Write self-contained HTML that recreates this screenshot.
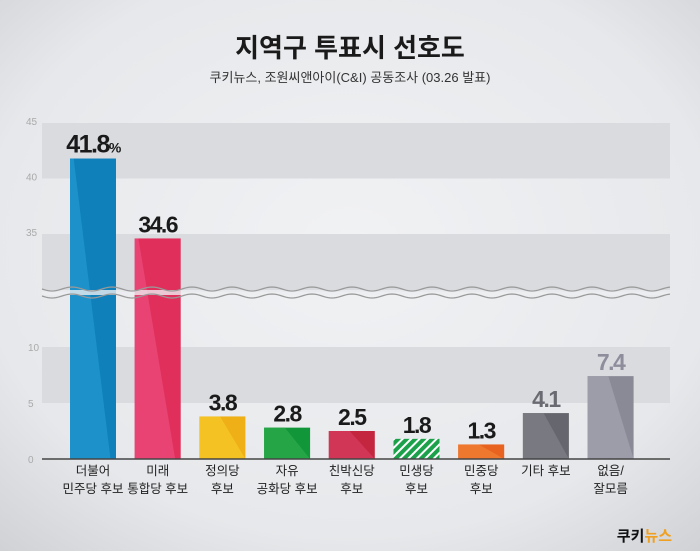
<!DOCTYPE html>
<html><head><meta charset="utf-8">
<style>
body{margin:0;width:700px;height:551px;overflow:hidden;font-family:"Liberation Sans","Noto Sans CJK KR",sans-serif;}
svg text{font-family:"Liberation Sans","Noto Sans CJK KR",sans-serif;}
</style></head>
<body>
<svg id="chart" width="700" height="551" viewBox="0 0 700 551">
<defs>
<radialGradient id="bg" cx="50%" cy="45%" r="75%">
<stop offset="0" stop-color="#f1f2f4"/><stop offset="0.7" stop-color="#e6e8eb"/><stop offset="1" stop-color="#cfd1d5"/>
</radialGradient>
<pattern id="hatch" width="6" height="6" patternUnits="userSpaceOnUse" patternTransform="rotate(45)">
<rect width="6" height="6" fill="#1aa14a"/><rect width="2" height="6" fill="#ffffff"/>
</pattern>
</defs>
<rect width="700" height="551" fill="url(#bg)"/>
<text x="350" y="57" text-anchor="middle" font-size="26" font-weight="bold" fill="#1a1a1a">지역구 투표시 선호도</text>
<text x="350" y="82" text-anchor="middle" font-size="13" fill="#333">쿠키뉴스, 조원씨앤아이(C&amp;I) 공동조사 (03.26 발표)</text>
<g id="grid"></g>
<g id="bars"></g>
<g id="labels"></g>
<text x="672" y="541" text-anchor="end" font-size="15" font-weight="bold" fill="#111">쿠키<tspan fill="#f0a020">뉴스</tspan></text>
</svg>
<script>
const categories=[["더불어","민주당 후보"],["미래","통합당 후보"],["정의당","후보"],["자유","공화당 후보"],["친박신당","후보"],["민생당","후보"],["민중당","후보"],["기타 후보"],["없음/","잘모름"]];
const values=[41.8,34.6,3.8,2.8,2.5,1.8,1.3,4.1,7.4];
const valueLabels=["41.8","34.6","3.8","2.8","2.5","1.8","1.3","4.1","7.4"];
const lowTicks=[0,5,10];
const highTicks=[35,40,45];
const colors=["#0f80ba","#df2f5a","#efaf17","#11963a","#c4263f","url(#hatch)","#e8631f","#66666e","#8a8a97"];
const lights=["#2094cc","#eb4778","#f5c626","#2aa84a","#d53a5a","none","#f07b33","#7d7d85","#a0a0ac"];
const ns="http://www.w3.org/2000/svg";
const X0=42,X1=670,BREAK=292;
function yLow(v){return 459-v*11.2;}
function yHigh(v){return 123+(45-v)*11.1;}
function yVal(v){return v>20?yHigh(v):yLow(v);}
function xBar(i){return 70+i*64.7;}
const BW=46;
function mk(tag,attrs,parent){const e=document.createElementNS(ns,tag);for(const k in attrs)e.setAttribute(k,attrs[k]);parent.appendChild(e);return e;}
const grid=document.getElementById('grid'),bars=document.getElementById('bars'),labels=document.getElementById('labels');
let b1=mk('rect',{x:X0,y:yLow(10),width:X1-X0,height:yLow(5)-yLow(10),fill:"#d9dbdf"},grid);

let b2=mk('rect',{x:X0,y:yHigh(45),width:X1-X0,height:yHigh(40)-yHigh(45),fill:"#d9dbdf"},grid);

let b3=mk('rect',{x:X0,y:yHigh(35),width:X1-X0,height:BREAK-yHigh(35),fill:"#d9dbdf"},grid);

lowTicks.forEach(t=>{const e=mk('text',{x:28,y:yLow(t)+4,'font-size':10,fill:"#aaa"},grid);e.textContent=t;
});
highTicks.forEach(t=>{const e=mk('text',{x:26,y:yHigh(t)+2,'font-size':10,fill:"#aaa"},grid);e.textContent=t;
});
values.forEach((v,i)=>{
 const x=xBar(i),y=yVal(v),h=459-y;
 const r=mk('rect',{x:x,y:y,width:BW,height:h,fill:colors[i]},bars);
 
 
 if(lights[i]!=="none"){
  const pts=i<2?`${x},${y} ${x+BW*0.08},${y} ${x+BW*0.88},459 ${x},459`:`${x},${y} ${x+BW*0.45},${y} ${x+BW},459 ${x},459`;
  const p=mk('polygon',{points:pts,fill:lights[i],opacity:0.85},bars);
  
  
 }
 const t=mk('text',{x:x+BW/2,y:y-6,'text-anchor':'middle','font-size':i===0?25:23,'font-weight':'bold',fill:i===7?"#6a6a72":(i===8?"#8d8d9b":"#1a1a1a"),'letter-spacing':-1.5},labels);
 t.textContent=valueLabels[i];
 if(i===0){const s=mk('tspan',{'font-size':14},t);s.textContent='%';}
 
 
 categories[i].forEach((line,j)=>{
  const c=mk('text',{x:x+BW/2,y:475+j*18,'text-anchor':'middle','font-size':12.5,fill:"#222"},labels);
  c.textContent=line;
  
  
 });
});
let d1="",d2="";
for(let x=X0;x<=X1;x+=2){const w=Math.sin((x-X0)/40*2*Math.PI)*2;d1+=(x===X0?"M":"L")+x+","+(BREAK-3+w);d2+=(x===X0?"M":"L")+x+","+(BREAK+4+w);}
const wf=mk('rect',{x:X0,y:BREAK-2,width:X1-X0,height:5,fill:"#eceef0",opacity:0.8},bars);

const w1=mk('path',{d:d1,fill:"none",stroke:"#999",'stroke-width':1.2},bars);

const w2=mk('path',{d:d2,fill:"none",stroke:"#999",'stroke-width':1.2},bars);

const ax=mk('line',{x1:X0,x2:X1,y1:459,y2:459,stroke:"#444",'stroke-width':1.5},bars);

</script>
</body></html>
